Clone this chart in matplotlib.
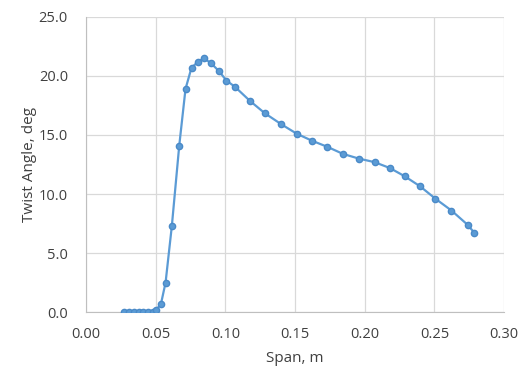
import matplotlib
matplotlib.use("Agg")
import matplotlib.pyplot as plt

# span (m) and twist angle (deg)
span = [0.0273, 0.0311, 0.0344, 0.0377, 0.0411, 0.0445, 0.0478, 0.0502, 0.0538,
        0.0571, 0.0616, 0.0669, 0.0714, 0.0757, 0.0804, 0.0845, 0.0895, 0.0955,
        0.1008, 0.1067, 0.1175, 0.1282, 0.1402, 0.1513, 0.1624, 0.1731, 0.1843,
        0.1957, 0.2070, 0.2180, 0.2287, 0.2397, 0.2507, 0.2622, 0.2737, 0.2787]
twist = [0.0, 0.0, 0.0, 0.0, 0.0, 0.0, 0.0, 0.15, 0.7,
         2.5, 7.3, 14.1, 18.9, 20.7, 21.2, 21.5, 21.1, 20.4,
         19.6, 19.1, 17.9, 16.85, 15.9, 15.1, 14.5, 14.0, 13.4,
         13.0, 12.7, 12.2, 11.5, 10.65, 9.6, 8.6, 7.4, 6.7]

xticks = [0.00, 0.05, 0.10, 0.15, 0.20, 0.25, 0.30]
yticks = [0.0, 5.0, 10.0, 15.0, 20.0, 25.0]

plt.rcParams['font.family'] = ['Open Sans', 'DejaVu Sans']
txt = '#404040'

fig = plt.figure(figsize=(5.23, 3.68), dpi=100)
ax = fig.add_axes([0.1644, 0.152, 0.7996, 0.802])

ax.plot(span, twist, color='#5B9BD5', lw=1.6, marker='o', ms=4.5,
        markerfacecolor='#5B9BD5', markeredgecolor='#4A8AC8', zorder=3)

ax.set_xlim(0, 0.30)
ax.set_ylim(0, 25)
ax.set_xticks(xticks)
ax.set_yticks(yticks)
ax.set_xticklabels([f"{v:.2f}" for v in xticks])
ax.set_yticklabels([f"{v:.1f}" for v in yticks])
ax.grid(True, color='#D9D9D9', lw=0.9)
ax.set_axisbelow(True)
for s in ['top', 'right']:
    ax.spines[s].set_visible(False)
for s in ['left', 'bottom']:
    ax.spines[s].set_color('#BFBFBF')
ax.tick_params(length=0, labelsize=10.5, colors=txt)
ax.tick_params(axis='x', pad=11)
ax.tick_params(axis='y', pad=13)
ax.set_xlabel('Span, m', fontsize=11, color=txt, labelpad=6)
ax.set_ylabel('Twist Angle, deg', fontsize=11, color=txt, labelpad=1)

fig.savefig('out.png', dpi=100)
